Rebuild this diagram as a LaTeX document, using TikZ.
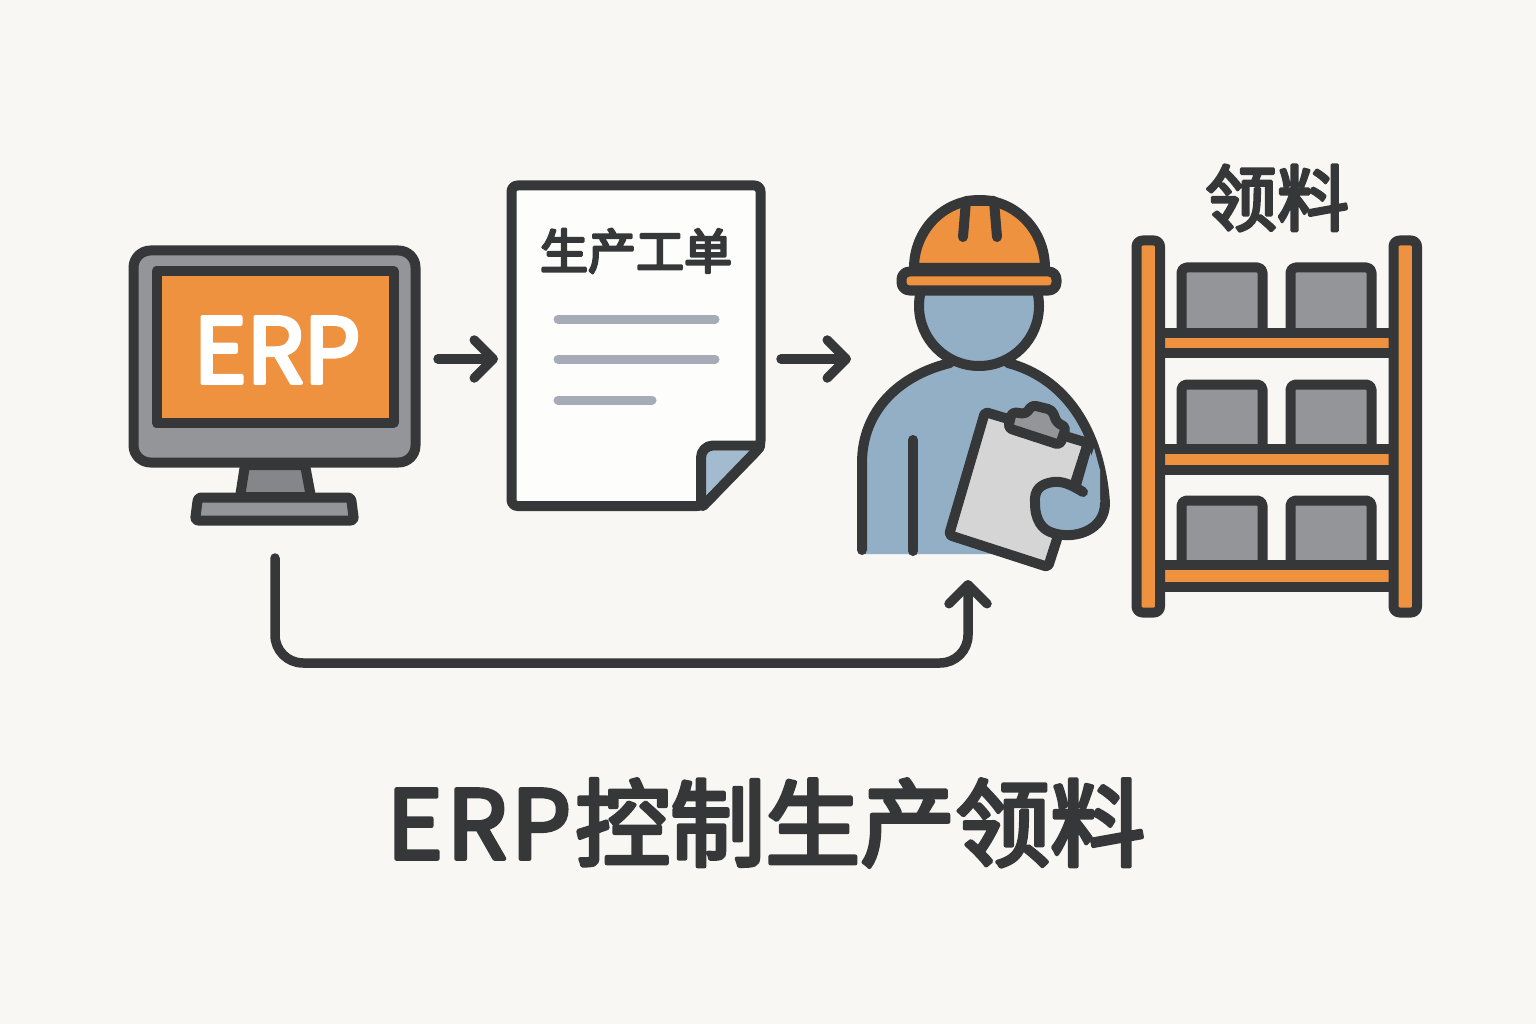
\documentclass[tikz,border=0pt]{standalone}
\usepackage{fontspec}
\setmainfont{Noto Sans CJK SC}
\usetikzlibrary{arrows.meta}
\definecolor{bgpaper}{HTML}{F8F7F3}
\definecolor{ink}{HTML}{353738}
\definecolor{amber}{HTML}{EE9240}
\definecolor{steel}{HTML}{939598}
\definecolor{denim}{HTML}{92AFC6}
\definecolor{board}{HTML}{D5D5D5}
\definecolor{rule}{HTML}{A6ABB8}
\newcommand{\inked}[2]{\special{pdf:code 1 J 1 j #1 w 2 Tr}#2\special{pdf:code 0 Tr}}
\begin{document}
\begin{tikzpicture}[line cap=round, line join=round, x=1pt, y=-1pt]
	\tikzset{part/.style={draw=ink, line width=10pt},
		flow/.style={draw=ink, line width=9.5pt, -{Straight Barb[length=19pt,width=38pt,round]}},
		word/.style={text=ink, inner sep=0pt, font=\fontsize{#1}{#1}\selectfont}}
	\fill[bgpaper] (0,0) rectangle (1536,1024);
	\useasboundingbox (0,0) rectangle (1536,1024);
	\path (275,558) coordinate (pcout)
	(968,580) coordinate (workerin)
	(438,359) coordinate (pcright)
	(498,359) coordinate (orderleft)
	(781,359) coordinate (orderright)
	(851,359) coordinate (workerleft);
	% computer
	\draw[part, fill=steel!90!black] (245,465)--(305,465)--(311,497)--(240,497)--cycle;
	\draw[part, fill=steel, rounded corners=3pt] (198,497.5)--(351,497.5)--(354,520.5)--(195,520.5)--cycle;
	\draw[part, fill=steel, rounded corners=17pt] (133.5,250.5) rectangle (415.5,462.5);
	\draw[part, fill=amber] (156.5,271.5) rectangle (393.5,422.5);
	\node[word=90, text=white] (erp) at (277,350) {\inked{4}{ERP}};
	% order
	\draw[part, fill=white!70!bgpaper, rounded corners=6pt] (511.5,185.5)--(760.5,185.5)--(760.5,447)--(703,506)--(511.5,506)--cycle;
	\fill[denim!85!white] (706,451)--(750,451)--(706,495)--cycle;
	\draw[part, rounded corners=12pt] (701,505)--(701,445.5)--(760,445.5);
	\draw[part] (760,447)--(703,506);
	\node[word=48] (order) at (636,251) {\inked{2.5}{生产工单}};
	\foreach\y/\x in {319/715,359/715,400/652} \draw[rule, line width=9pt] (558,\y)--(\x,\y);
	% worker
	\fill[denim] (862,550)--(862,463) .. controls (862,410) and (900,375) .. (950,363)--(1008,363) .. controls (1065,378) and (1100,430) .. (1105,503)--(1050,540)--(1000,554)--(862,554)--cycle;
	\draw[part] (862,550)--(862,463) .. controls (862,410) and (900,375) .. (950,363)
	(1008,363) .. controls (1065,378) and (1100,430) .. (1105,503);
	\draw[part] (913,440)--(913,551);
	\draw[part, fill=denim] (979,306) circle (60);
	\draw[part, fill=amber] (914,268) arc (180:360:65.5 and 68) --cycle;
	\draw[part] (963,237)--(966,201)--(994,201)--(997,237);
	\draw[part, fill=amber, rounded corners=8pt] (901.5,271.5) rectangle (1056.5,290.5);
	\draw[part, fill=board, rounded corners=3pt] (985,412)--(1088,443)--(1048,567)--(949,535)--cycle;
	\draw[part, fill=steel, rounded corners=4pt] (1008,428)--(1012,412)--(1026,414)--(1032,405)--(1052,410)--(1057,423)--(1066,427)--(1060,445)--cycle;
	\fill[denim] (1094,448)--(1100,470)--(1100,505)--(1080,488)--cycle;
	\draw[part] (1088,443)--(1076,485);
	\draw[part, fill=denim] (1083,492) .. controls (1070,484) and (1062,481) .. (1053,482) .. controls (1040,484) and (1034,490) .. (1035,503) .. controls (1035,520) and (1042,530) .. (1053,533) .. controls (1075,540) and (1105,530) .. (1105,503);
	% rack
	\foreach\y in {267.5,384.5,500.5} \foreach\x in {1181.5,1290.5} \draw[part, fill=steel, rounded corners=5pt] (\x,\y) rectangle (\x+81,\y+70);
	\foreach\y/\h in {332.5/20,448.5/21,564.5/22} \draw[part, fill=amber] (1160,\y) rectangle (1393.5,\y+\h);
	\foreach\x in {1136.5,1393.5} \draw[part, fill=amber, rounded corners=6pt] (\x,240.5) rectangle (\x+23.5,612.5);
	\node[word=72] (pick) at (1277,198) {\inked{3}{领料}};
	% flows
	\draw[flow] (pcright)--(orderleft);
	\draw[flow] (orderright)--(workerleft);
	\draw[flow, rounded corners=28pt] (pcout)--(pcout|-0,663)--(workerin|-0,663)--(workerin);
	\node[word=95] (title) at (766,823) {\inked{4}{E\kern4pt R\kern4pt P\kern4pt 控制生产领料}};
\end{tikzpicture}
\end{document}
